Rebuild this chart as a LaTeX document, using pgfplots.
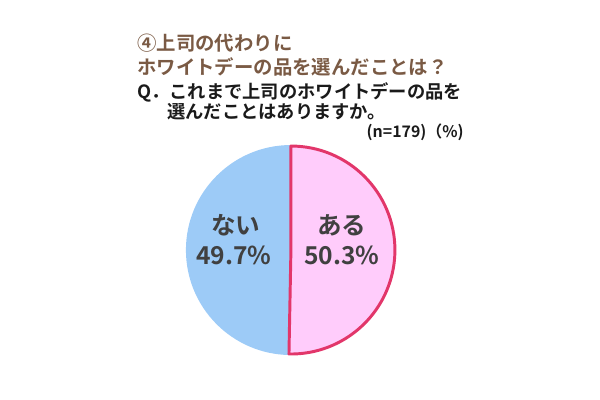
\documentclass[border=0pt]{standalone}
\usepackage{pgfplots}
\usepackage{pgfplotstable}
\usepackage{fontspec}
\pgfplotsset{compat=1.18}
\setmainfont{Noto Sans CJK JP}
\newfontfamily\jp{Noto Sans CJK JP Bold}[BoldFont={Noto Sans CJK JP Bold}]
\definecolor{titlebrown}{HTML}{7A5A44}
\definecolor{qtext}{HTML}{1A1A1A}
\definecolor{labeltext}{HTML}{404040}
\definecolor{bluefill}{HTML}{9DCBF7}
\definecolor{pinkfill}{HTML}{FFCCFB}
\definecolor{pinkborder}{HTML}{E2366A}
\pgfplotstableread{
label value
ある 50.3
ない 49.7
}\piedata
\pgfplotstablegetelem{0}{value}\of\piedata
\let\valA\pgfplotsretval
\pgfplotstablegetelem{1}{value}\of\piedata
\let\valB\pgfplotsretval
\pgfmathsetmacro{\endA}{90-3.6*\valA}
\pgfmathsetmacro{\endB}{90+3.6*\valB}
\begin{document}
\begin{tikzpicture}
\useasboundingbox (0,0) rectangle (15cm,10cm);
\begin{axis}[
  at={(0,0)}, anchor=south west,
  x=0.025cm, y=0.025cm,
  xmin=0, xmax=600, ymin=0, ymax=400,
  hide axis, clip=false, axis line style={draw=none},
]
% pie: centre (291,150), radius 105 px = 2.625cm
\fill[bluefill] (axis cs:291,150) -- ++(90:2.625cm) arc[start angle=90, end angle=\endB, radius=2.625cm] -- cycle;
\filldraw[fill=pinkfill, draw=pinkborder, line width=2.1pt, line join=round] (axis cs:291,150) -- ++(90:2.6cm) arc[start angle=90, end angle=\endA, radius=2.6cm] -- cycle;
% labels
\node[labeltext, font=\jp\fontsize{17.5}{20}\selectfont] at (axis cs:236,175) {ない};
\node[labeltext, font=\jp\fontsize{17.5}{20}\selectfont] at (axis cs:234,145) {\valB\%};
\node[labeltext, font=\jp\fontsize{17.5}{20}\selectfont] at (axis cs:342,175) {ある};
\node[labeltext, font=\jp\fontsize{17.5}{20}\selectfont] at (axis cs:342,145) {\valA\%};
% titles
\node[anchor=west, inner sep=0pt, titlebrown, font=\jp\fontsize{13.8}{16}\selectfont] at (axis cs:137,357) {④上司の代わりに};
\node[anchor=west, inner sep=0pt, titlebrown, font=\jp\fontsize{13.8}{16}\selectfont] at (axis cs:137,333) {ホワイトデーの品を選んだことは？};
\node[anchor=west, inner sep=0pt, qtext, font=\jp\fontsize{13}{16}\selectfont] at (axis cs:137,308) {Q．これまで上司のホワイトデーの品を};
\node[anchor=west, inner sep=0pt, qtext, font=\jp\fontsize{13}{16}\selectfont] at (axis cs:167,288) {選んだことはありますか。};
\node[anchor=east, inner sep=0pt, qtext, font=\jp\fontsize{11.3}{13}\selectfont] at (axis cs:464,268) {(n=179)（\%)};
\end{axis}
\end{tikzpicture}
\end{document}
